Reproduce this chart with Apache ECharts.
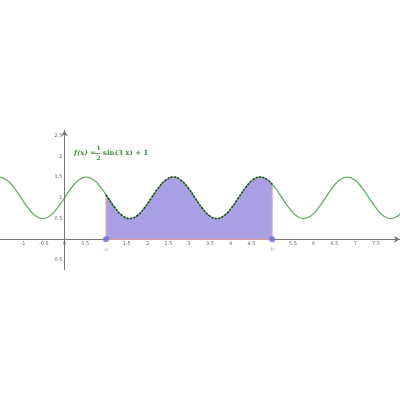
<!DOCTYPE html>
<html><head><meta charset="utf-8">
<script src="https://cdn.jsdelivr.net/npm/echarts@6/dist/echarts.min.js"></script>
<style>html,body{margin:0;padding:0;background:#fff}#c{width:400px;height:400px}</style>
</head><body><div id="c"></div>
<script>
// Sampled points read along the curve f(x) = 1/2 sin(3x) + 1
const curveX = [-1.5708,-1.3963,-1.2217,-1.0472,-0.8727,-0.6981,-0.5236,-0.3491,-0.1745,
  0,0.1745,0.3491,0.5236,0.6981,0.8727,1.0472,1.2217,1.3963,1.5708,1.7453,1.9199,
  2.0944,2.2689,2.4435,2.6180,2.7925,2.9671,3.1416,3.3161,3.4907,3.6652,3.8397,4.0143,
  4.1888,4.3633,4.5379,4.7124,4.8869,5.0615,5.2360,5.4105,5.5851,5.7596,5.9341,6.1087,
  6.2832,6.4577,6.6323,6.8068,6.9813,7.1558,7.3304,7.5049,7.6794,7.8540,8.0285,8.2030];
const curveY = [1.5,1.433,1.25,1,0.75,0.567,0.5,0.567,0.75,
  1,1.25,1.433,1.5,1.433,1.25,1,0.75,0.567,0.5,0.567,0.75,
  1,1.25,1.433,1.5,1.433,1.25,1,0.75,0.567,0.5,0.567,0.75,
  1,1.25,1.433,1.5,1.433,1.25,1,0.75,0.567,0.5,0.567,0.75,
  1,1.25,1.433,1.5,1.433,1.25,1,0.75,0.567,0.5,0.567,0.75];
// integration bounds and curve values there
const boundA = 1, boundB = 5;
const fA = 1.0706, fB = 1.3251;
const xTicks = [-1,-0.5,0,0.5,1.5,2,2.5,3,3.5,4,4.5,5.5,6,6.5,7,7.5];
const yTicks = [-0.5,0.5,1,1.5,2,2.5];
const yAxisSpan = [-0.74, 2.63];

const curve = curveX.map((x,i)=>[x,curveY[i]]);
const area = [[boundA,fA]].concat(curve.filter(p=>p[0]>boundA&&p[0]<boundB)).concat([[boundB,fB]]);

const chart = echarts.init(document.getElementById('c'), null, {renderer:'canvas'});
const green = '#66ad66';
const lblFont = {fontSize:5,color:'#444',fontFamily:'DejaVu Sans'};
chart.setOption({
  animation:false,
  grid:{left:0,right:0,top:0,bottom:0,containLabel:false,outerBoundsMode:'none'},
  xAxis:{type:'value',min:-1.553,max:8.078,splitLine:{show:false},
    axisLine:{show:true,onZero:true,symbol:['none','arrow'],symbolSize:[5,6],lineStyle:{color:'#777',width:1}},
    axisTick:{show:false},axisLabel:{show:false}},
  yAxis:{type:'value',min:-3.872,max:5.766,splitLine:{show:false},
    axisLine:{show:false},axisTick:{show:false},axisLabel:{show:false}},
  series:[
    {type:'line',data:area,smooth:true,symbol:'none',lineStyle:{opacity:0},
      areaStyle:{color:'#a99fe5',opacity:1},z:2},
    {type:'line',data:[[boundA,fA],[boundA,0],[boundB,0],[boundB,fB]],symbol:'none',
      lineStyle:{color:'#e6a69a',width:1},z:3},
    {type:'line',data:curve,smooth:true,symbol:'none',lineStyle:{color:green,width:1.3},z:4,
      markLine:{silent:true,symbol:['none','arrow'],symbolSize:[5,6],label:{show:false},
        lineStyle:{color:'#777',width:1,type:'solid'},
        data:[[{coord:[0,yAxisSpan[0]]},{coord:[0,yAxisSpan[1]]}]]}},
    {type:'line',data:area,smooth:true,symbol:'none',lineStyle:{color:'#1f3f1f',width:1.5,type:[2,1.5]},z:5},
    {type:'scatter',data:xTicks.map(v=>[v,0]),symbolSize:0,silent:true,z:6,
      label:Object.assign({show:true,position:'bottom',distance:2,formatter:p=>String(p.data[0])},lblFont)},
    {type:'scatter',data:yTicks.map(v=>[0,v]),symbolSize:0,silent:true,z:6,
      label:Object.assign({show:true,position:'left',distance:2,formatter:p=>String(p.data[1])},lblFont)},
    {type:'scatter',data:[[boundA,0,'a'],[boundB,0,'b']],symbolSize:6,
      itemStyle:{color:'#6b6bd6'},z:7,
      label:{show:true,position:'bottom',distance:4,formatter:p=>p.data[2],fontSize:6,color:'#8f8fe8',fontFamily:'DejaVu Sans'}}
  ],
  graphic:[
    {type:'text',left:74,top:150,style:{text:'f(x) =',font:'italic bold 7px "DejaVu Serif"',fill:'#3f8f3f'}},
    {type:'text',left:96.5,top:145.5,style:{text:'1',font:'bold 6px "DejaVu Serif"',fill:'#3f8f3f'}},
    {type:'line',shape:{x1:95.5,y1:153.5,x2:100.5,y2:153.5},style:{stroke:'#3f8f3f',lineWidth:0.8}},
    {type:'text',left:96.5,top:155,style:{text:'2',font:'bold 6px "DejaVu Serif"',fill:'#3f8f3f'}},
    {type:'text',left:103,top:150,style:{text:'sin(3 x) + 1',font:'bold 7px "DejaVu Serif"',fill:'#3f8f3f'}}
  ]
});
</script></body></html>
